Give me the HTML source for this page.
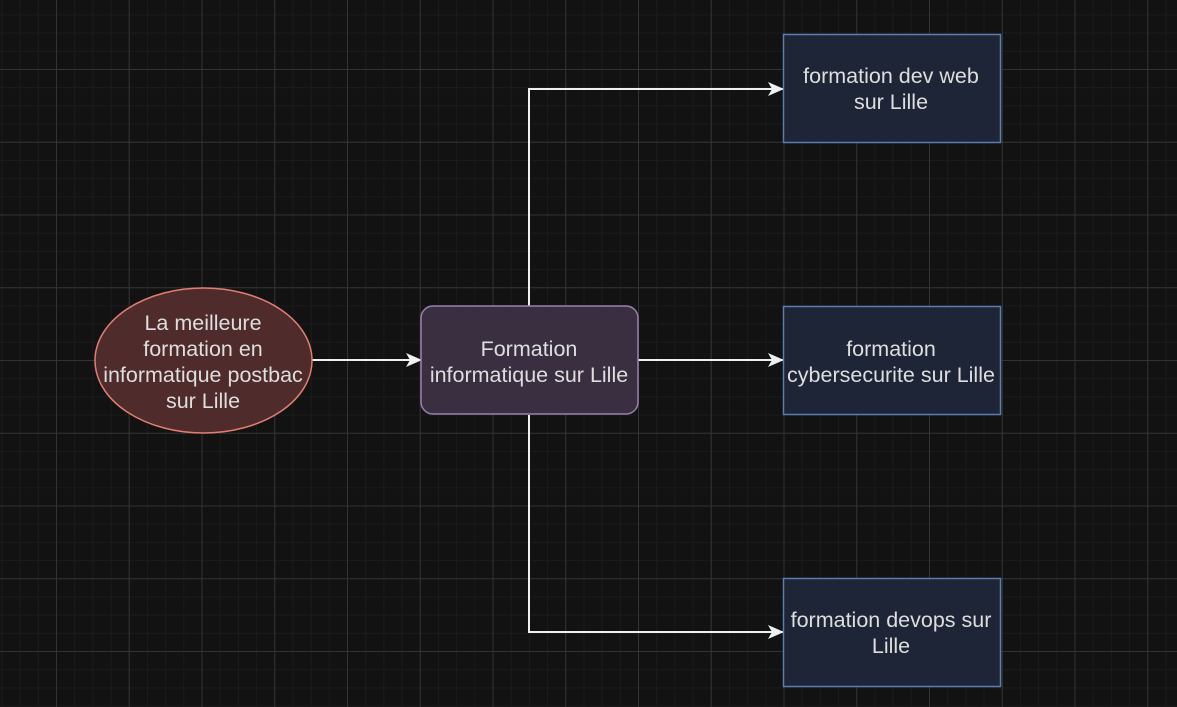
<!DOCTYPE html>
<html><head><meta charset="utf-8"><style>
html,body{margin:0;padding:0;background:#121212;width:1177px;height:707px;overflow:hidden}
.grid{position:absolute;left:0;top:0;width:1177px;height:707px;
background-image:
linear-gradient(to right,#333 1px,transparent 1px),
linear-gradient(to bottom,#333 1px,transparent 1px),
linear-gradient(to right,#1b1b1b 1px,transparent 1px),
linear-gradient(to bottom,#1b1b1b 1px,transparent 1px);
background-size:72.75px 72.75px,72.75px 72.75px,18.1875px 18.1875px,18.1875px 18.1875px;
background-position:56px 69px,56px 69px,56px 69px,56px 69px;}
svg{position:absolute;left:0;top:0;display:block}
text{font-family:"Liberation Sans",Arial,sans-serif;font-size:21.5px;fill:#dedede;text-anchor:middle}
</style></head><body>
<div class="grid"></div>
<svg width="1177" height="707" viewBox="0 0 1177 707" xmlns="http://www.w3.org/2000/svg">
<defs>
<marker id="ah" markerWidth="16" markerHeight="16" refX="15" refY="8" orient="auto" markerUnits="userSpaceOnUse">
<path d="M0 1L16 8L0 15L4 8Z" fill="#f0f0f0"/>
</marker>
</defs>
<g stroke="#f0f0f0" stroke-width="2" fill="none">
<path d="M312 360H421" marker-end="url(#ah)"/>
<path d="M638 360H783" marker-end="url(#ah)"/>
<path d="M529 306V89H783" marker-end="url(#ah)"/>
<path d="M529 415V632H783" marker-end="url(#ah)"/>
</g>

<ellipse cx="203.5" cy="360.5" rx="108.5" ry="72.5" fill="#4f2b2b" stroke="#e07e73" stroke-width="1.5"/>
<text x="203" y="330">La meilleure</text>
<text x="203" y="356">formation en</text>
<text x="203" y="382">informatique postbac</text>
<text x="203" y="408">sur Lille</text>

<rect x="421" y="306" width="217" height="108" rx="12" fill="#3a2f40" stroke="#9c7eb0" stroke-width="1.5"/>
<text x="529" y="356">Formation</text>
<text x="529" y="382">informatique sur Lille</text>

<g fill="#1d2537" stroke="#5b7db0" stroke-width="1.5">
<rect x="783.5" y="34.5" width="217" height="108"/>
<rect x="783.5" y="306.5" width="217" height="108"/>
<rect x="783.5" y="578.5" width="217" height="108"/>
</g>
<text x="891" y="83">formation dev web</text>
<text x="891" y="109">sur Lille</text>
<text x="891" y="356">formation</text>
<text x="891" y="382">cybersecurite sur Lille</text>
<text x="891" y="627">formation devops sur</text>
<text x="891" y="653">Lille</text>
</svg>
</body></html>
